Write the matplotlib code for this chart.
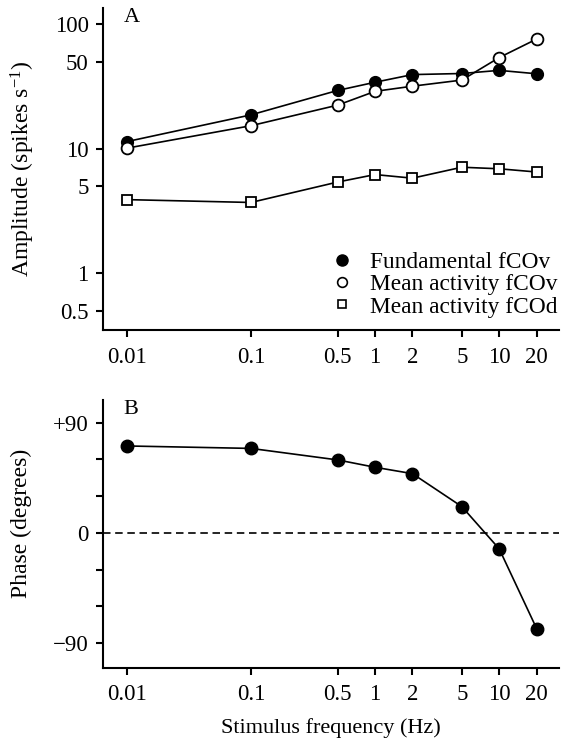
import matplotlib
matplotlib.use("Agg")
import matplotlib.pyplot as plt
from matplotlib.lines import Line2D
from matplotlib.ticker import FixedLocator, NullLocator, FixedFormatter

# data
freq = [0.01, 0.1, 0.5, 1, 2, 5, 10, 20]
freq_labels = ["0.01", "0.1", "0.5", "1", "2", "5", "10", "20"]
fundamental_fcov = [11.4, 18.7, 29.4, 34.2, 39.4, 40.2, 42.6, 40.0]
mean_fcov = [10.1, 15.3, 22.4, 28.9, 31.8, 35.6, 54.0, 76.0]
mean_fcod = [3.9, 3.7, 5.4, 6.2, 5.8, 7.1, 6.9, 6.5]
phase = [71, 69, 59.6, 53.6, 48.4, 21.5, -13, -78]

amp_ticks = [0.5, 1, 5, 10, 50, 100]
amp_tick_labels = ["0.5", "1", "5", "10", "50", "100"]
phase_ticks = [-90, -60, -30, 0, 30, 60, 90]
phase_tick_labels = ["\u221290", "", "", "0", "", "", "+90"]

FONT = "Liberation Serif"
plt.rcParams["font.family"] = FONT
plt.rcParams["mathtext.fontset"] = "custom"
plt.rcParams["mathtext.rm"] = FONT
plt.rcParams["mathtext.it"] = FONT + ":italic"

LW = 1.2
SPINE_LW = 1.5
TICK_FS = 16.5
LABEL_FS = 17


def _style_axes(ax):
    for side in ("top", "right"):
        ax.spines[side].set_visible(False)
    for side in ("left", "bottom"):
        ax.spines[side].set_linewidth(SPINE_LW)
    ax.tick_params(direction="out", length=5, width=SPINE_LW, labelsize=TICK_FS)
    ax.tick_params(axis="y", pad=5)
    ax.tick_params(axis="x", pad=7)
    ax.set_xscale("log")
    ax.xaxis.set_major_locator(FixedLocator(freq))
    ax.xaxis.set_major_formatter(FixedFormatter(freq_labels))
    ax.xaxis.set_minor_locator(NullLocator())
    ax.set_xlim(0.00638, 30.3)


def main() -> None:
    fig = plt.figure(figsize=(5.63, 7.42), dpi=100)
    ax_a = fig.add_axes([0.1821, 0.5549, 0.8108, 0.4343])
    ax_b = fig.add_axes([0.1821, 0.1001, 0.8108, 0.3608])

    # panel A
    _style_axes(ax_a)
    ax_a.set_yscale("log")
    ax_a.plot(freq, fundamental_fcov, color="black", lw=LW, marker="o", ms=8.5,
              mfc="black", mec="black", zorder=3)
    ax_a.plot(freq, mean_fcov, color="black", lw=LW, marker="o", ms=8.5,
              mfc="white", mec="black", mew=1.3, zorder=4)
    ax_a.plot(freq, mean_fcod, color="black", lw=LW, marker="s", ms=6.5,
              mfc="white", mec="black", mew=1.3, zorder=4)
    ax_a.yaxis.set_major_locator(FixedLocator(amp_ticks))
    ax_a.yaxis.set_major_formatter(FixedFormatter(amp_tick_labels))
    ax_a.yaxis.set_minor_locator(NullLocator())
    ax_a.set_ylim(0.348, 135)
    ax_a.set_ylabel(r"Amplitude (spikes s$^{-1}$)", fontsize=LABEL_FS)
    ax_a.yaxis.set_label_coords(-0.143, 0.5)
    ax_a.text(0.0646, 0.972, "A", transform=ax_a.transAxes, fontsize=16,
              ha="center", va="center")

    handles = [
        Line2D([], [], ls="none", marker="o", ms=8, mfc="black", mec="black"),
        Line2D([], [], ls="none", marker="o", ms=7, mfc="white", mec="black", mew=1.2),
        Line2D([], [], ls="none", marker="s", ms=5.5, mfc="white", mec="black", mew=1.2),
    ]
    labels = ["Fundamental fCOv", "Mean activity fCOv", "Mean activity fCOd"]
    ax_a.legend(handles, labels, loc="upper left", bbox_to_anchor=(0.504, 0.244),
                frameon=False, fontsize=16.8, borderpad=0, borderaxespad=0,
                handlelength=0.8, handletextpad=0.82, labelspacing=0.04)

    # panel B
    _style_axes(ax_b)
    ax_b.axhline(0, color="black", lw=1.2, dashes=(4.5, 2.8))
    ax_b.plot(freq, phase, color="black", lw=LW, marker="o", ms=9,
              mfc="black", mec="black", zorder=3)
    ax_b.yaxis.set_major_locator(FixedLocator(phase_ticks))
    ax_b.yaxis.set_major_formatter(FixedFormatter(phase_tick_labels))
    ax_b.set_ylim(-110, 108.5)
    ax_b.set_ylabel("Phase (degrees)", fontsize=LABEL_FS)
    ax_b.yaxis.set_label_coords(-0.155, 0.54)
    ax_b.set_xlabel("Stimulus frequency (Hz)", fontsize=16, labelpad=9)
    ax_b.text(0.0618, 0.966, "B", transform=ax_b.transAxes, fontsize=16,
              ha="center", va="center")

    fig.savefig("out.png", dpi=100)
    plt.close(fig)


if __name__ == "__main__":
    main()
